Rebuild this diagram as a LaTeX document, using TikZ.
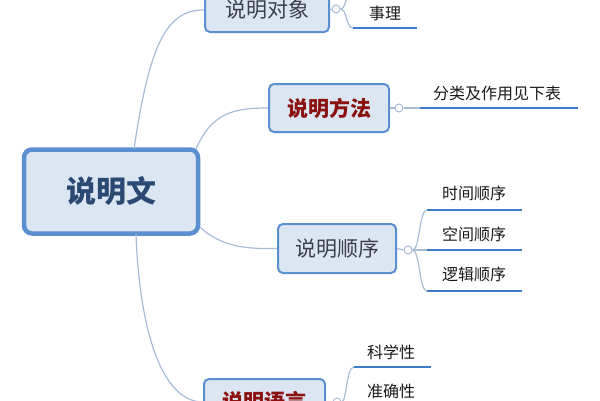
\documentclass[tikz,border=0pt]{standalone}
\usepackage{fontspec}
\newfontfamily\cjk{Noto Sans CJK SC}
\definecolor{boxfill}{HTML}{DCE6F2}
\definecolor{boxline}{HTML}{5B8FD0}
\definecolor{connc}{HTML}{A9BCD6}
\definecolor{ulinec}{HTML}{3D7CC9}
\definecolor{roottext}{HTML}{2B4A73}
\definecolor{greytext}{HTML}{3A3F4A}
\definecolor{redtext}{HTML}{8B1010}
\definecolor{leaftext}{HTML}{1A1A1A}
\tikzset{
  rootbox/.style={draw=boxline, line width=4.5pt, fill=boxfill, rounded corners=8pt,
    minimum width=174pt, minimum height=84pt, inner sep=0pt,
    font=\cjk\bfseries\fontsize{30}{36}\selectfont, text=roottext},
  topicbox/.style={draw=boxline, line width=2pt, fill=boxfill, rounded corners=5pt,
    inner sep=0pt, font=\cjk\fontsize{21}{25}\selectfont, text=greytext},
  redtopic/.style={topicbox, font=\cjk\bfseries\fontsize{21}{25}\selectfont, text=redtext},
  foldc/.style={circle, draw=connc, line width=1pt, fill=white, minimum size=8pt, inner sep=0pt},
  conn/.style={draw=connc, line width=1.2pt},
  uline/.style={draw=ulinec, line width=2.5pt},
  leaf/.style={inner sep=0pt, font=\cjk\fontsize{16}{19}\selectfont, text=leaftext}
}
\begin{document}
\begin{tikzpicture}[x=1pt,y=-1pt]
\useasboundingbox (0,0) rectangle (600,400);
\clip (0,0) rectangle (600,400);
\fill[white] (0,0) rectangle (600,400);

\coordinate (rootA) at (134,149);
\coordinate (rootB) at (196,149);
\coordinate (rootC) at (200,227);
\coordinate (rootD) at (136,234);

% topic nodes
\node[rootbox] (root) at (111,191.5) {说明文};
\node[topicbox, minimum width=124pt, minimum height=44pt] (obj) at (267,10) {说明对象};
\node[redtopic, minimum width=120pt, minimum height=48pt] (method) at (329,108) {说明方法};
\node[topicbox, minimum width=118pt, minimum height=49pt] (order) at (337,248.5) {说明顺序};
\node[redtopic, minimum width=121pt, minimum height=46pt] (lang) at (264.5,402) {说明语言};

\draw[conn] (rootA) .. controls (150,40) and (168,10) .. (obj.west);
\draw[conn] (rootB) .. controls (212,112) and (235,108) .. (method.west);
\draw[conn] (rootC) .. controls (222,248) and (250,249) .. (order.west);
\draw[conn] (rootD) .. controls (140,340) and (165,402) .. (lang.west);

% fold circles
\node[foldc] (cobj) at (336,9) {};
\node[foldc] (cmethod) at (399,108) {};
\node[foldc] (corder) at (408,250) {};
\node[foldc] (clang) at (337,402) {};
\draw[conn] (obj.east) -- (cobj.west);
\draw[conn] (method.east) -- (cmethod.west);
\draw[conn] (order.east) -- (corder.west);
\draw[conn] (lang.east) -- (clang.west);

% 说明对象 branches
\coordinate (u0a) at (353,-12); \coordinate (u0b) at (417,-12);
\coordinate (u1a) at (353,28); \coordinate (u1b) at (417,28);
\draw[conn] (cobj.east) .. controls (347,9) and (346,-12) .. (u0a);
\draw[conn] (cobj.east) .. controls (347,9) and (346,28) .. (u1a);
\draw[uline] (u1a) -- (u1b);
\node[leaf] (t1) at (385,13) {事理};

% 说明方法 branch
\coordinate (u2a) at (420,108); \coordinate (u2b) at (578,108);
\draw[conn] (cmethod.east) -- (u2a);
\draw[uline] (u2a) -- (u2b);
\node[leaf] (t2) at (497,93) {分类及作用见下表};

% 说明顺序 branches
\coordinate (u3a) at (427,210); \coordinate (u3b) at (522,210);
\coordinate (u4a) at (427,250); \coordinate (u4b) at (522,250);
\coordinate (u5a) at (427,291); \coordinate (u5b) at (522,291);
\draw[conn] (corder.east) .. controls (420,250) and (419,210) .. (u3a);
\draw[conn] (corder.east) -- (u4a);
\draw[conn] (corder.east) .. controls (420,250) and (419,291) .. (u5a);
\draw[uline] (u3a) -- (u3b);
\draw[uline] (u4a) -- (u4b);
\draw[uline] (u5a) -- (u5b);
\node[leaf] (t3) at (474,193) {时间顺序};
\node[leaf] (t4) at (474,234) {空间顺序};
\node[leaf] (t5) at (474,274) {逻辑顺序};

% 说明语言 branches
\coordinate (u6a) at (354,367); \coordinate (u6b) at (431,367);
\draw[conn] (clang.east) .. controls (347,402) and (346,367) .. (u6a);
\draw[uline] (u6a) -- (u6b);
\node[leaf] (t6) at (391,352) {科学性};
\node[leaf] (t7) at (391,391) {准确性};
\end{tikzpicture}
\end{document}
